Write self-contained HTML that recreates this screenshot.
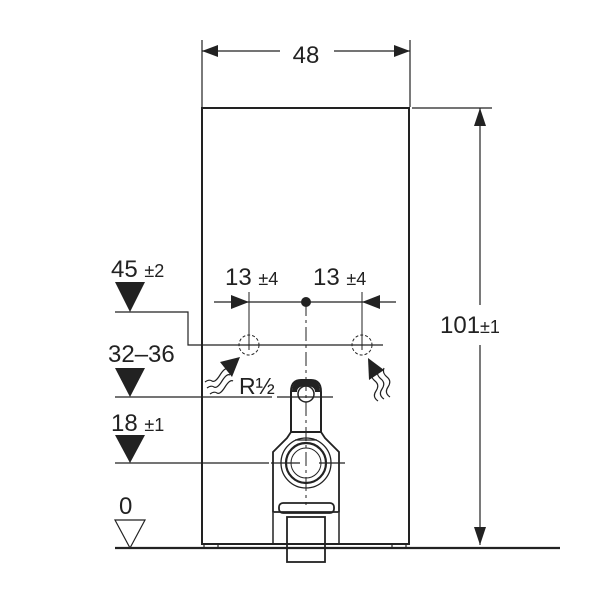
<!DOCTYPE html>
<html><head><meta charset="utf-8"><style>
html,body{margin:0;padding:0;background:#fff}
svg{display:block}
text{font-family:"Liberation Sans",sans-serif;fill:#222}
</style></head><body>
<svg width="603" height="603" viewBox="0 0 603 603" xmlns="http://www.w3.org/2000/svg">
<g stroke="#222" fill="none">
<rect x="202" y="108" width="207" height="436" stroke-width="2"/>
<rect x="204" y="544" width="14" height="4" stroke-width="1.2"/>
<rect x="392" y="544" width="14" height="4" stroke-width="1.2"/>
<line x1="202" y1="40" x2="202" y2="107" stroke-width="1.2"/>
<line x1="410" y1="40" x2="410" y2="107" stroke-width="1.2"/>
<line x1="202" y1="51" x2="280" y2="51" stroke-width="1.2"/>
<line x1="334" y1="51" x2="410" y2="51" stroke-width="1.2"/>
<line x1="412" y1="108" x2="492" y2="108" stroke-width="1.2"/>
<line x1="480" y1="108" x2="480" y2="305" stroke-width="1.2"/>
<line x1="480" y1="345" x2="480" y2="545" stroke-width="1.2"/>
<line x1="115" y1="548" x2="560" y2="548" stroke-width="2.2"/>
<polyline points="115,312 188,312 188,345 383,345" stroke-width="1.2"/>
<line x1="115" y1="397" x2="272" y2="397" stroke-width="1.2"/>
<line x1="277" y1="397" x2="333" y2="397" stroke-width="1.2"/>
<line x1="115" y1="463" x2="269" y2="463" stroke-width="1.2"/>
<line x1="271" y1="463" x2="300" y2="463" stroke-width="1.2"/>
<line x1="319" y1="463" x2="345" y2="463" stroke-width="1.2"/>
<line x1="214" y1="302" x2="396" y2="302" stroke-width="1.2"/>
<line x1="249" y1="292" x2="249" y2="350" stroke-width="1"/>
<line x1="362" y1="292" x2="362" y2="350" stroke-width="1"/>
<line x1="306" y1="302" x2="306" y2="505" stroke-width="1" stroke-dasharray="14,4,3,4"/>
<circle cx="249" cy="345" r="10" stroke-width="1" stroke-dasharray="3,2"/>
<circle cx="362" cy="345" r="10" stroke-width="1" stroke-dasharray="3,2"/>
<path d="M205 382 q4 -3 7 -1 t8 -6 t8 -6 M207 388 q4 -3 7 -1 t8 -6 t8 -6 M210 394 q4 -3 7 -1 t8 -6 t8 -6" stroke-width="1.2"/>
<path d="M372 372 q-2 5 3 9 t1 10 t2 10 M378 370 q-2 5 3 9 t1 10 t2 10 M384 368 q-2 5 3 9 t1 10 t2 10" stroke-width="1.2"/>
<path d="M291 392 q0 -12 10 -12 h10 q10 0 10 12 v40 h-30 z" stroke-width="2"/>
<circle cx="306" cy="394" r="8" stroke-width="1.5"/>
<path d="M291 432 h30 l4 6 l14 14 v60 h-66 v-60 l14 -14 z" stroke-width="1.8"/>
<path d="M295 440 h22" stroke-width="1.2"/>
<circle cx="306" cy="463" r="25" stroke-width="1.3"/>
<circle cx="306" cy="463" r="20" stroke-width="2.2"/>
<circle cx="306" cy="463" r="15" stroke-width="1"/>
<rect x="279" y="503" width="55" height="10" rx="4" stroke-width="1.8"/>
<path d="M273 513 v32 M339 513 v32" stroke-width="1.5"/>
<rect x="287" y="517" width="38" height="45" stroke-width="1.8"/>
</g>
<g fill="#222">
<polygon points="202,51 218,45 218,57"/>
<polygon points="410,51 394,45 394,57"/>
<polygon points="480,108 474,126 486,126"/>
<polygon points="480,545 474,527 486,527"/>
<polygon points="249,302 231,295 231,309"/>
<polygon points="362,302 380,295 380,309"/>
<circle cx="306" cy="302" r="5"/>
<polygon points="115,282 145,282 130,312"/>
<polygon points="115,368 145,368 130,397"/>
<polygon points="115,435 145,435 130,463"/>
<polygon points="240,357 220,362 232,377"/>
<polygon points="368,358 369,380 384,370"/>
<path d="M292 392 q0 -12 10 -12 h8 q10 0 10 12 h-5 q0 -6 -9 -6 q-9 0 -9 6 z"/>
</g>
<polygon points="115,520 145,520 130,548" fill="none" stroke="#222" stroke-width="1.2"/>
<text x="306" y="63" font-size="24" text-anchor="middle">48</text>
<text x="440" y="333" font-size="24">101<tspan font-size="18">±1</tspan></text>
<text x="111" y="277" font-size="24">45 <tspan font-size="18">±2</tspan></text>
<text x="108" y="362" font-size="24">32–36</text>
<text x="111" y="431" font-size="24">18 <tspan font-size="18">±1</tspan></text>
<text x="119" y="514" font-size="24">0</text>
<text x="225" y="285" font-size="24">13 <tspan font-size="18">±4</tspan></text>
<text x="313" y="285" font-size="24">13 <tspan font-size="18">±4</tspan></text>
<text x="239" y="394" font-size="23">R½</text>
</svg>
</body></html>
